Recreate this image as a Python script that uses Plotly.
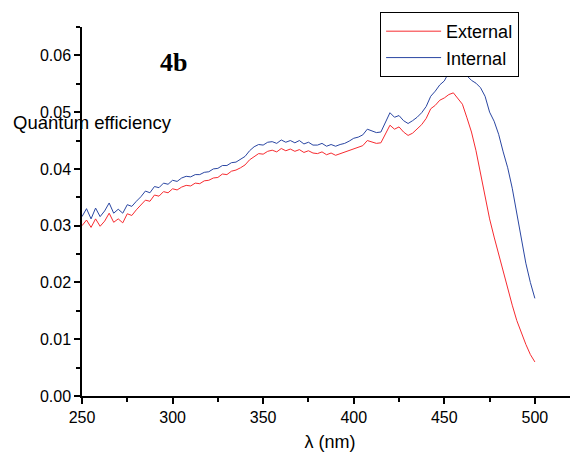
import plotly.graph_objects as go

wavelength_start = 250.0
wavelength_step = 2.5
external = [
    0.0300, 0.0310, 0.0297, 0.0312, 0.0299, 0.0308, 0.0322, 0.0306, 0.0312, 0.0305,
    0.0321, 0.0318, 0.0328, 0.0336, 0.0345, 0.0343, 0.0354, 0.0352, 0.0360, 0.0358,
    0.0365, 0.0363, 0.0368, 0.0371, 0.0370, 0.0375, 0.0374, 0.0379, 0.0380, 0.0384,
    0.0385, 0.0391, 0.0390, 0.0396, 0.0398, 0.0402, 0.0407, 0.0416, 0.0421, 0.0427,
    0.0426, 0.0431, 0.0433, 0.0430, 0.0436, 0.0432, 0.0435, 0.0431, 0.0434, 0.0429,
    0.0432, 0.0428, 0.0427, 0.0430, 0.0425, 0.0428, 0.0424, 0.0427, 0.0429, 0.0432,
    0.0436, 0.0438, 0.0441, 0.0450, 0.0447, 0.0445, 0.0446, 0.0463, 0.0477, 0.0470,
    0.0474, 0.0465, 0.0459, 0.0463, 0.0470, 0.0478, 0.0489, 0.0506, 0.0512, 0.0521,
    0.0525, 0.0531, 0.0534, 0.0523, 0.0514, 0.0490, 0.0465, 0.0432, 0.0392, 0.0352,
    0.0312, 0.0280, 0.0250, 0.0218, 0.0186, 0.0160, 0.0133, 0.0110, 0.0091, 0.0073,
    0.0060,
]
internal = [
    0.0316, 0.0330, 0.0312, 0.0331, 0.0316, 0.0326, 0.0340, 0.0322, 0.0329, 0.0322,
    0.0337, 0.0334, 0.0343, 0.0351, 0.0361, 0.0358, 0.0369, 0.0367, 0.0375, 0.0373,
    0.0380, 0.0378, 0.0384, 0.0387, 0.0386, 0.0390, 0.0390, 0.0394, 0.0395, 0.0400,
    0.0401, 0.0406, 0.0406, 0.0411, 0.0412, 0.0417, 0.0422, 0.0432, 0.0439, 0.0443,
    0.0442, 0.0447, 0.0448, 0.0445, 0.0451, 0.0447, 0.0450, 0.0446, 0.0450, 0.0444,
    0.0447, 0.0442, 0.0442, 0.0445, 0.0440, 0.0443, 0.0440, 0.0443, 0.0445, 0.0449,
    0.0454, 0.0456, 0.0460, 0.0470, 0.0467, 0.0464, 0.0465, 0.0482, 0.0499, 0.0491,
    0.0494, 0.0485, 0.0480, 0.0485, 0.0491, 0.0499, 0.0510, 0.0528, 0.0537, 0.0548,
    0.0555, 0.0570, 0.0576, 0.0579, 0.0570, 0.0564, 0.0556, 0.0551, 0.0543, 0.0528,
    0.0500, 0.0484, 0.0461, 0.0430, 0.0402, 0.0366, 0.0323, 0.0281, 0.0234, 0.0200,
    0.0172,
]
wavelength = [wavelength_start + i * wavelength_step for i in range(len(external))]

x_ticks = [250, 300, 350, 400, 450, 500]
y_ticks = [0.00, 0.01, 0.02, 0.03, 0.04, 0.05, 0.06]
y_ticklabels = ["0.00", "0.01", "0.02", "0.03", "0.04", "0.05", "0.06"]

fig = go.Figure()
fig.add_trace(go.Scatter(x=wavelength, y=external, mode="lines", name="External",
                         line=dict(color="#f72b30", width=1)))
fig.add_trace(go.Scatter(x=wavelength, y=internal, mode="lines", name="Internal",
                         line=dict(color="#2a46a2", width=1)))

font_family = "Liberation Sans, Arial, sans-serif"
fig.update_layout(
    width=570, height=449,
    margin=dict(l=74, r=0, t=19, b=61, autoexpand=False),
    paper_bgcolor="white", plot_bgcolor="white",
    font=dict(family=font_family, size=16, color="black"),
    showlegend=True,
    legend=dict(x=0.601, y=1.0407, xanchor="left", yanchor="top",
                bordercolor="black", borderwidth=1, bgcolor="white",
                font=dict(size=18, family=font_family),
                tracegroupgap=0, itemwidth=55),
    xaxis=dict(range=[250, 523.8], tickvals=x_ticks, showgrid=False, zeroline=False,
               showline=True, linecolor="black", linewidth=1.5,
               ticks="outside", ticklen=6, tickwidth=1.5, tickcolor="black",
               minor=dict(ticks="outside", ticklen=4, dtick=25, tick0=250, tickcolor="black", tickwidth=1.5),
               tickfont=dict(size=16), automargin=False,
               title=dict(text="λ (nm)", font=dict(size=18), standoff=10)),
    yaxis=dict(range=[0, 0.065], tickvals=y_ticks, ticktext=y_ticklabels, showgrid=False,
               zeroline=False, showline=True, linecolor="black", linewidth=1.5,
               ticks="outside", ticklen=6, tickwidth=1.5, tickcolor="black",
               minor=dict(ticks="outside", ticklen=4, dtick=0.005, tick0=0, tickcolor="black", tickwidth=1.5),
               tickfont=dict(size=16), automargin=False),
)

fig.add_annotation(text="Quantum efficiency", xref="paper", yref="paper",
                   x=-0.143, y=0.742, xanchor="left", yanchor="middle",
                   showarrow=False, font=dict(size=18.5, family=font_family))
fig.add_annotation(text="<b>4b</b>", xref="paper", yref="paper",
                   x=0.185, y=0.905, xanchor="center", yanchor="middle",
                   showarrow=False, font=dict(size=26, family="Liberation Serif, Times New Roman, serif"))

fig.write_html("out.html")
